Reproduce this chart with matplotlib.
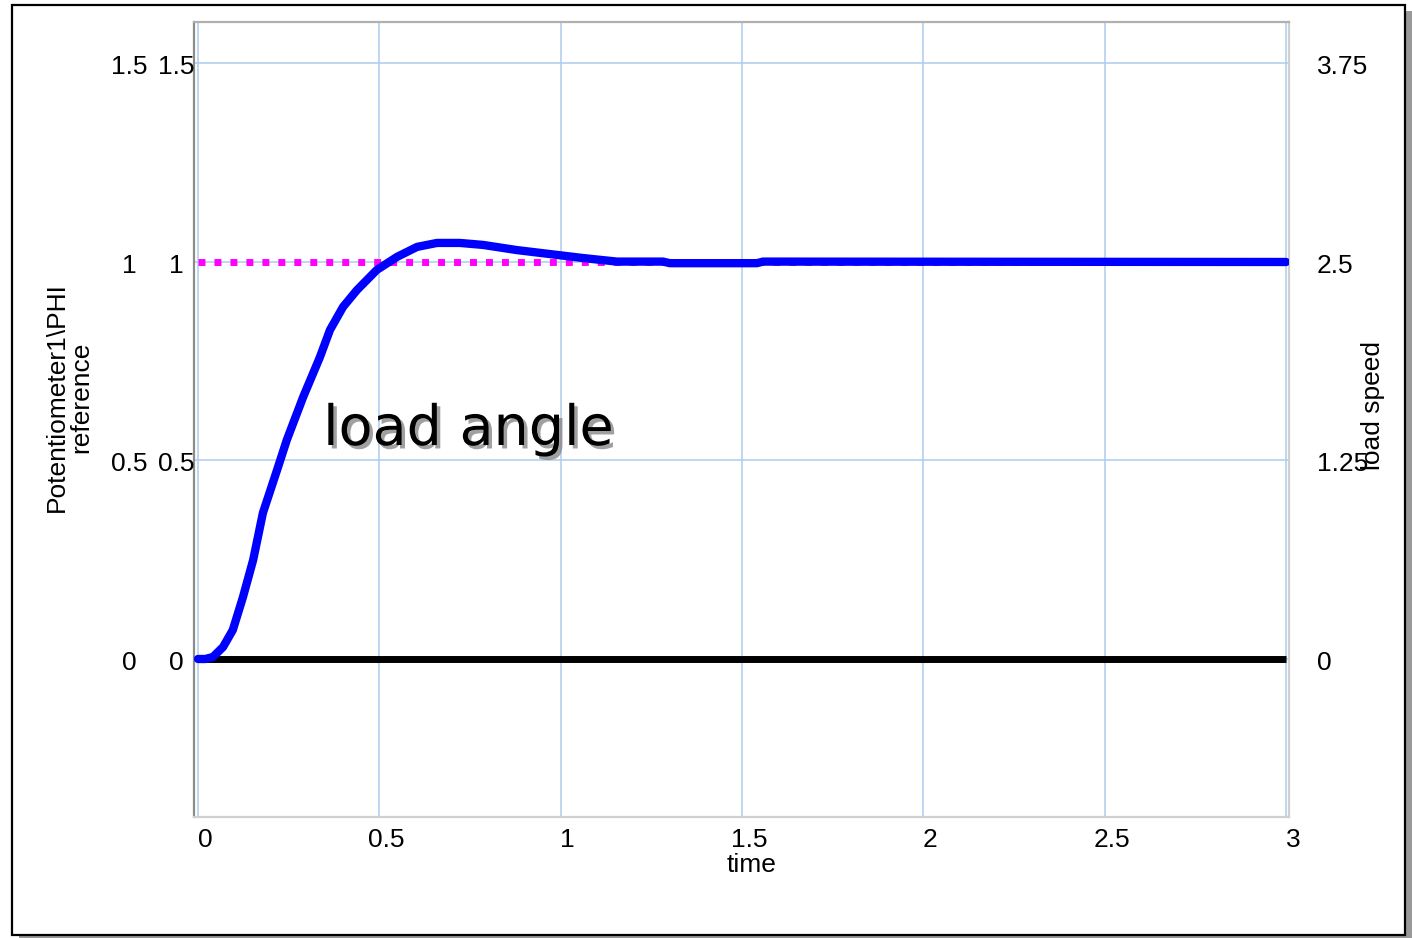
import matplotlib
matplotlib.use('Agg')
import matplotlib.pyplot as plt
import matplotlib.transforms as mtransforms
import matplotlib.patheffects as pe
from matplotlib.patches import Rectangle

plt.rcParams['font.family'] = ['Liberation Sans', 'DejaVu Sans']

# data
time = [0.0, 0.02, 0.041, 0.069, 0.096, 0.124, 0.152, 0.179, 0.218, 0.245,
        0.29, 0.336, 0.364, 0.40, 0.438, 0.493, 0.549, 0.604, 0.659, 0.722,
        0.786, 0.879, 0.97, 1.061, 1.155, 1.282, 1.301, 1.541, 1.558, 3.0]
load_angle = [0.0, 0.0, 0.005, 0.03, 0.073, 0.156, 0.249, 0.368, 0.476, 0.552,
              0.66, 0.76, 0.829, 0.887, 0.929, 0.98, 1.013, 1.038, 1.048, 1.048,
              1.043, 1.03, 1.02, 1.01, 1.001, 1.001, 0.997, 0.997, 1.001, 1.0]
ref_time = [0.0, 3.0]
reference = [1.0, 1.0]
speed_time = [0.0, 3.0]
load_speed = [0.0, 0.0]

xticks = [0, 0.5, 1, 1.5, 2, 2.5, 3]
xticklabels = ['0', '0.5', '1', '1.5', '2', '2.5', '3']
yticks = [0, 0.5, 1, 1.5]
yticklabels = ['0', '0.5', '1', '1.5']
right_ticklabels = ['0', '1.25', '2.5', '3.75']

fig = plt.figure(figsize=(14.12, 9.38), dpi=100)

# outer frame with drop shadow
fig.patches.append(Rectangle((19 / 1412, -3 / 938), 1393 / 1412, 930 / 938,
                             transform=fig.transFigure, facecolor='#999999',
                             edgecolor='none', zorder=0))
fig.patches.append(Rectangle((12 / 1412, 3 / 938), 1393 / 1412, 930 / 938,
                             transform=fig.transFigure, facecolor='white',
                             edgecolor='black', lw=1.6, zorder=1))

ax = fig.add_axes([194 / 1412, 1 - 817 / 938, 1095 / 1412, 795 / 938])
ax.set_zorder(2)
ax.set_xlim(-0.011, 3.008)
ax.set_ylim(-0.398, 1.6045)

for x in xticks:
    ax.axvline(x, color='#aecbee', lw=1.1, zorder=1)
for y in yticks:
    ax.axhline(y, color='#aecbee', lw=1.1, zorder=1)

ax.plot(speed_time, load_speed, color='black', lw=5, solid_capstyle='butt', zorder=2)
ax.plot(ref_time, reference, color='#ff00ff', lw=5, linestyle=(0, (1.0, 1.3)),
        dash_capstyle='butt', zorder=3)
ax.plot(time, load_angle, color='#0000ff', lw=6, solid_capstyle='round',
        solid_joinstyle='round', zorder=4)

ax.text(0.345, 0.539, 'load angle', fontsize=40, family='DejaVu Sans', ha='left',
        va='baseline', zorder=5,
        path_effects=[pe.SimplePatchShadow(offset=(2.5, -2.5), shadow_rgbFace='#888888', alpha=0.8),
                      pe.Normal()])

ax.spines['left'].set_color('#8c8c8c')
ax.spines['left'].set_linewidth(1.6)
for s in ['top', 'right', 'bottom']:
    ax.spines[s].set_color('#d0d0d0')
    ax.spines[s].set_linewidth(1.6)
ax.spines['top'].set_color('#b0b0b0')

ax.set_xticks(xticks)
ax.set_xticklabels(xticklabels, fontsize=19)
ax.tick_params(axis='x', length=0, pad=8)
shift = mtransforms.ScaledTranslation(7 / 100, 0, fig.dpi_scale_trans)
for lab in ax.get_xticklabels():
    lab.set_transform(lab.get_transform() + shift)
ax.set_yticks([])

down = mtransforms.ScaledTranslation(0, -4 / 100, fig.dpi_scale_trans)
ytrans = mtransforms.blended_transform_factory(fig.transFigure, ax.transData) + down
for y, lab in zip(yticks, yticklabels):
    fig.text(129 / 1412, y, lab, transform=ytrans, fontsize=19, ha='center', va='center')
    fig.text(176 / 1412, y, lab, transform=ytrans, fontsize=19, ha='center', va='center')
for y, lab in zip(yticks, right_ticklabels):
    fig.text(1317 / 1412, y, lab, transform=ytrans, fontsize=19, ha='left', va='center')

fig.text(752 / 1412, 1 - 865 / 938, 'time', fontsize=19, ha='center', va='center')
fig.text(69 / 1412, 1 - 397 / 938, 'Potentiometer1\\PHI\nreference', fontsize=19,
         rotation=90, ha='center', va='center', multialignment='center', linespacing=1.0)
fig.text(1373 / 1412, 1 - 406 / 938, 'load speed', fontsize=19, rotation=90,
         ha='center', va='center')

fig.savefig('out.png', dpi=100)
